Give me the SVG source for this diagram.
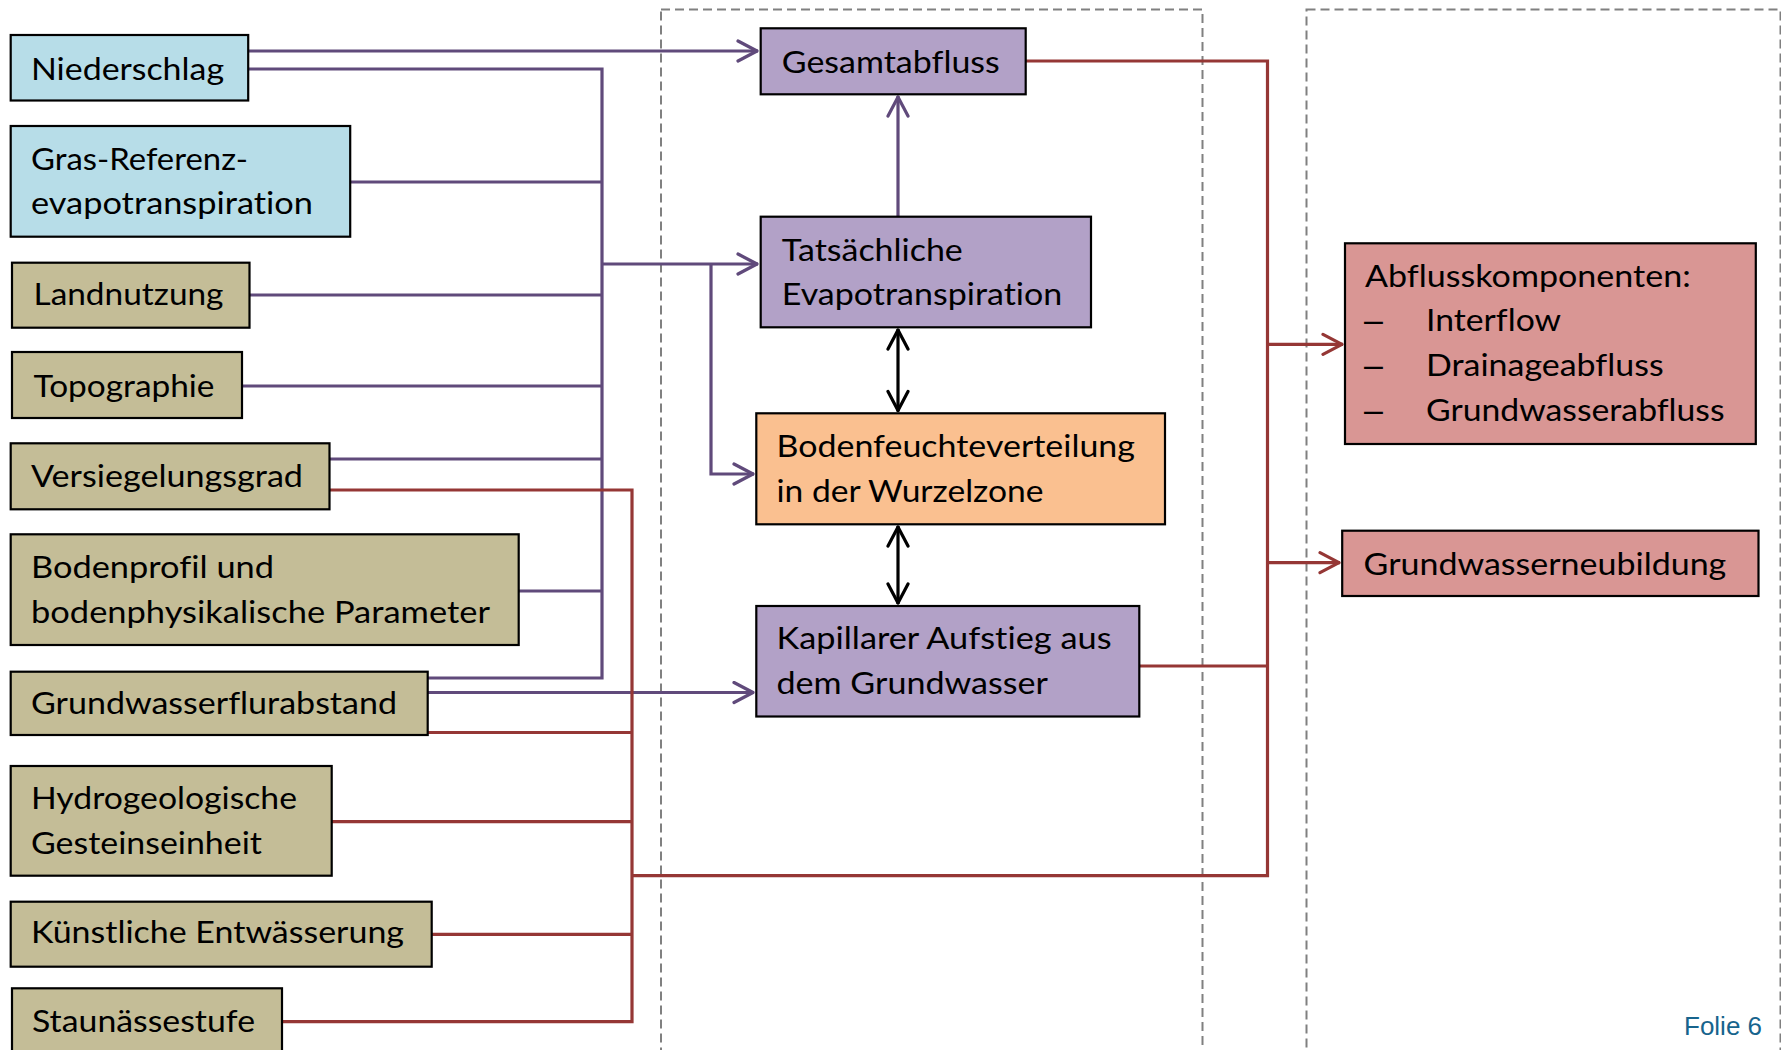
<svg xmlns="http://www.w3.org/2000/svg" width="1781" height="1050" viewBox="0 0 1781 1050">
<style>
.box{stroke:#000;stroke-width:2.2}
.blue{fill:#b7dde8}.tan{fill:#c4bd97}.lila{fill:#b2a1c7}.orange{fill:#fac090}.rose{fill:#d99694}
text{font-family:Lato,"Liberation Sans",sans-serif;font-size:31px;fill:#000;font-variant-ligatures:none;font-feature-settings:"liga" 0,"clig" 0}
.dsh{font-family:"Liberation Sans",sans-serif;font-size:34px}
.p{stroke:#604a7b;stroke-width:3.2;fill:none}
.r{stroke:#953735;stroke-width:3.2;fill:none}
.k{stroke:#000;stroke-width:3.2;fill:none}
.dash{stroke:#808080;stroke-width:2;fill:none;stroke-dasharray:9 5}
</style>
<defs>
<marker id="ap" viewBox="-23 -12 25 24" refX="0" refY="0" markerUnits="userSpaceOnUse" markerWidth="25" markerHeight="24" orient="auto-start-reverse"><path d="M-20,-10 L-1,0 L-20,10" fill="none" stroke="#604a7b" stroke-width="3.2" stroke-linejoin="round" stroke-linecap="round"/></marker>
<marker id="ar" viewBox="-23 -12 25 24" refX="0" refY="0" markerUnits="userSpaceOnUse" markerWidth="25" markerHeight="24" orient="auto-start-reverse"><path d="M-20,-10 L-1,0 L-20,10" fill="none" stroke="#953735" stroke-width="3.2" stroke-linejoin="round" stroke-linecap="round"/></marker>
<marker id="ak" viewBox="-23 -12 25 24" refX="0" refY="0" markerUnits="userSpaceOnUse" markerWidth="25" markerHeight="24" orient="auto-start-reverse"><path d="M-20,-10 L-1,0 L-20,10" fill="none" stroke="#000" stroke-width="3.2" stroke-linejoin="round" stroke-linecap="round"/></marker>
</defs>
<rect width="1781" height="1050" fill="#fff"/>
<g id="frames">
<rect class="dash" x="661" y="9.5" width="541.5" height="1060"/>
<rect class="dash" x="1306.5" y="9.5" width="474" height="1060"/>
</g>
<g id="connectors">
<path class="p" d="M248,51 H758" marker-end="url(#ap)"/>
<path class="p" d="M248,69 H602 V678 H428"/>
<path class="p" d="M350,182 H602"/>
<path class="p" d="M249,295 H602"/>
<path class="p" d="M242,386 H602"/>
<path class="p" d="M329.5,459 H602"/>
<path class="p" d="M519,591 H602"/>
<path class="p" d="M602,264 H758" marker-end="url(#ap)"/>
<path class="p" d="M711,264 V474 H754" marker-end="url(#ap)"/>
<path class="p" d="M428,692.5 H754" marker-end="url(#ap)"/>
<path class="p" d="M898,216.5 V96" marker-end="url(#ap)"/>
<path class="k" d="M898,329 V411.5" marker-start="url(#ak)" marker-end="url(#ak)"/>
<path class="k" d="M898,526 V604" marker-start="url(#ak)" marker-end="url(#ak)"/>
<path class="r" d="M329.5,490 H632 V1021.7 H282"/>
<path class="r" d="M428,732.5 H632"/>
<path class="r" d="M332,821.7 H632"/>
<path class="r" d="M432,934.3 H632"/>
<path class="r" d="M632,875.7 H1267.5 V61 H1025.6"/>
<path class="r" d="M1139.3,666 H1267.5"/>
<path class="r" d="M1267.5,344.3 H1343" marker-end="url(#ar)"/>
<path class="r" d="M1267.5,562.7 H1340" marker-end="url(#ar)"/>
</g>
<g id="n-niederschlag"><rect class="box blue" x="10.7" y="35" width="237.5" height="65.5"/><text x="31" y="80" textLength="193" lengthAdjust="spacingAndGlyphs">Niederschlag</text></g>
<g id="n-gras"><rect class="box blue" x="10.7" y="126" width="339.5" height="110.7"/><text x="31" y="170" textLength="217" lengthAdjust="spacingAndGlyphs">Gras-Referenz-</text><text x="31" y="213.5" textLength="282" lengthAdjust="spacingAndGlyphs">evapotranspiration</text></g>
<g id="n-landnutzung"><rect class="box tan" x="12" y="262.7" width="237.5" height="65"/><text x="33.5" y="305" textLength="190" lengthAdjust="spacingAndGlyphs">Landnutzung</text></g>
<g id="n-topographie"><rect class="box tan" x="12" y="352" width="230" height="66"/><text x="33.5" y="396.5" textLength="181" lengthAdjust="spacingAndGlyphs">Topographie</text></g>
<g id="n-versiegelung"><rect class="box tan" x="10.7" y="443.3" width="318.8" height="66"/><text x="31" y="486.7" textLength="272" lengthAdjust="spacingAndGlyphs">Versiegelungsgrad</text></g>
<g id="n-bodenprofil"><rect class="box tan" x="10.7" y="534.3" width="508" height="110.7"/><text x="31" y="578" textLength="243" lengthAdjust="spacingAndGlyphs">Bodenprofil und</text><text x="31" y="622.7" textLength="459" lengthAdjust="spacingAndGlyphs">bodenphysikalische  Parameter</text></g>
<g id="n-gwflur"><rect class="box tan" x="10.7" y="671.7" width="417" height="63.3"/><text x="31" y="714" textLength="366" lengthAdjust="spacingAndGlyphs">Grundwasserflurabstand</text></g>
<g id="n-hydro"><rect class="box tan" x="10.7" y="766" width="321" height="109.7"/><text x="31" y="809.3" textLength="266" lengthAdjust="spacingAndGlyphs">Hydrogeologische</text><text x="31" y="854" textLength="231" lengthAdjust="spacingAndGlyphs">Gesteinseinheit</text></g>
<g id="n-kuenstlich"><rect class="box tan" x="10.7" y="901.7" width="421" height="65"/><text x="31" y="943.3" textLength="373" lengthAdjust="spacingAndGlyphs">Künstliche Entwässerung</text></g>
<g id="n-stau"><rect class="box tan" x="12" y="988.3" width="270" height="80"/><text x="32" y="1031.7" textLength="223" lengthAdjust="spacingAndGlyphs">Staunässestufe</text></g>
<g id="n-gesamt"><rect class="box lila" x="760.7" y="28.3" width="265" height="66"/><text x="781.8" y="72.7" textLength="218" lengthAdjust="spacingAndGlyphs">Gesamtabfluss</text></g>
<g id="n-eta"><rect class="box lila" x="760.7" y="216.7" width="330.3" height="110.6"/><text x="781.8" y="261" textLength="181" lengthAdjust="spacingAndGlyphs">Tatsächliche</text><text x="781.8" y="305" textLength="280.5" lengthAdjust="spacingAndGlyphs">Evapotranspiration</text></g>
<g id="n-boden"><rect class="box orange" x="756.3" y="413.3" width="408.7" height="111"/><text x="776.5" y="457.3" textLength="358.5" lengthAdjust="spacingAndGlyphs">Bodenfeuchteverteilung</text><text x="776.5" y="501.7" textLength="267" lengthAdjust="spacingAndGlyphs">in der Wurzelzone</text></g>
<g id="n-kapillar"><rect class="box lila" x="756.3" y="606" width="383" height="110.5"/><text x="776.5" y="649.3" textLength="335" lengthAdjust="spacingAndGlyphs">Kapillarer Aufstieg aus</text><text x="776.5" y="694.3" textLength="271.5" lengthAdjust="spacingAndGlyphs">dem Grundwasser</text></g>
<g id="n-abfluss"><rect class="box rose" x="1345" y="243.3" width="410.8" height="200.7"/><text x="1365" y="286.7" textLength="325.7" lengthAdjust="spacingAndGlyphs">Abflusskomponenten:</text><text class="dsh" x="1364" y="331">–</text><text x="1426" y="331" textLength="135" lengthAdjust="spacingAndGlyphs">Interflow</text><text class="dsh" x="1364" y="376">–</text><text x="1426" y="376" textLength="237.6" lengthAdjust="spacingAndGlyphs">Drainageabfluss</text><text class="dsh" x="1364" y="421">–</text><text x="1426" y="421" textLength="298.6" lengthAdjust="spacingAndGlyphs">Grundwasserabfluss</text></g>
<g id="n-gwn"><rect class="box rose" x="1342.2" y="530.7" width="416.3" height="65.3"/><text x="1363.6" y="575" textLength="362.7" lengthAdjust="spacingAndGlyphs">Grundwasserneubildung</text></g>
<text x="1684" y="1035" style="font-family:'Liberation Sans',Arial,sans-serif;font-size:26px;fill:#17648d">Folie 6</text>
</svg>
